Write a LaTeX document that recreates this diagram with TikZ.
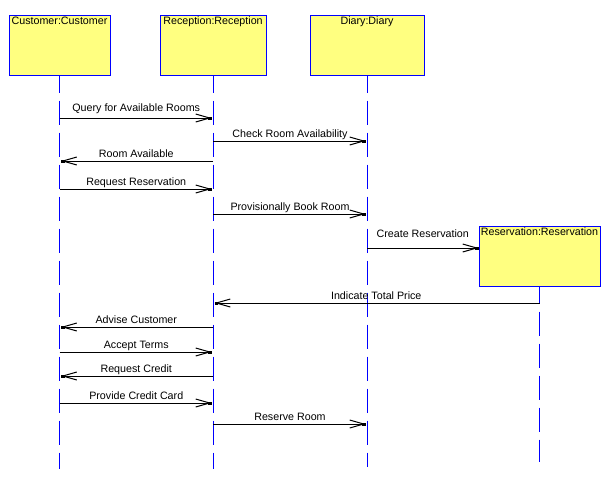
\documentclass[tikz,border=0pt]{standalone}
\usepackage{fontspec}
\setmainfont{Liberation Sans}
\usepackage{xcolor}
\usepackage{tikz}
\usetikzlibrary{arrows.meta, positioning}
\definecolor{objyellow}{RGB}{255,255,128}
\definecolor{lifeblue}{RGB}{0,0,255}

\begin{document}
\begin{tikzpicture}[x=1pt, y=-1pt, font=\fontsize{10.7}{12}\selectfont,
        obj/.style={draw=lifeblue, fill=objyellow, line width=1pt, minimum height=60pt, inner sep=0pt},
        objname/.style={anchor=north, inner sep=2.5pt},
        lifeline/.style={lifeblue, line width=1pt, dash pattern=on 24pt off 8pt, dash phase=7pt},
        msg/.style={-{Straight Barb[length=14pt, width=8pt, sep=-3.5pt] Square[length=3.5pt, width=3pt]}, line width=1pt, shorten >=1.5pt},
        lbl/.style={above=3.5pt, inner sep=0pt, text depth=0pt}]
    \useasboundingbox (0,0) rectangle (614,482);
    % Objects
    \node [obj, minimum width=101pt, label={[objname]north:Customer:Customer}] (cust) at (59.5,45) {};
    \node [obj, minimum width=106pt, label={[objname]north:Reception:Reception}] (recep) at (213,45) {};
    \node [obj, minimum width=114pt, label={[objname]north:Diary:Diary}] (diary) at (367,45) {};
    \node [obj, minimum width=121pt, label={[objname]north:Reservation:Reservation}] (resv) at (539.5,256) {};
    % Lifeline ends
    \coordinate (custend) at (cust |- 0,469);
    \coordinate (recepend) at (recep |- 0,469);
    \coordinate (diaryend) at (diary |- 0,467);
    \coordinate (resvend) at (resv |- 0,462);
    % Lifelines
    \draw [lifeline] (cust.south) -- (custend);
    \draw [lifeline] (recep.south) -- (recepend);
    \draw [lifeline] (diary.south) -- (diaryend);
    \draw [lifeline] (resv.south) -- (resvend);
    % Messages
    \draw [msg] (cust |- 0,118) -- (recep |- 0,118) node[lbl, midway, above=6.5pt] {Query for Available Rooms};
    \draw [msg] (recep |- 0,141) -- (diary |- 0,141) node[lbl, midway] {Check Room Availability};
    \draw [msg] (recep |- 0,161) -- (cust |- 0,161) node[lbl, midway] {Room Available};
    \draw [msg] (cust |- 0,189) -- (recep |- 0,189) node[lbl, midway] {Request Reservation};
    \draw [msg] (recep |- 0,214) -- (diary |- 0,214) node[lbl, midway] {Provisionally Book Room};
    \draw [msg, shorten >=0pt] (diary |- 0,248) -- (resv.west |- 0,248) node[lbl, midway, above=10pt] {Create Reservation};
    \draw [msg] (resv |- 0,303) -- (recep |- 0,303) node[lbl, midway] {Indicate Total Price};
    \draw [msg] (recep |- 0,327) -- (cust |- 0,327) node[lbl, midway] {Advise Customer};
    \draw [msg] (cust |- 0,352) -- (recep |- 0,352) node[lbl, midway] {Accept Terms};
    \draw [msg] (recep |- 0,376) -- (cust |- 0,376) node[lbl, midway] {Request Credit};
    \draw [msg] (cust |- 0,403) -- (recep |- 0,403) node[lbl, midway] {Provide Credit Card};
    \draw [msg] (recep |- 0,424) -- (diary |- 0,424) node[lbl, midway] {Reserve Room};
\end{tikzpicture}
\end{document}
